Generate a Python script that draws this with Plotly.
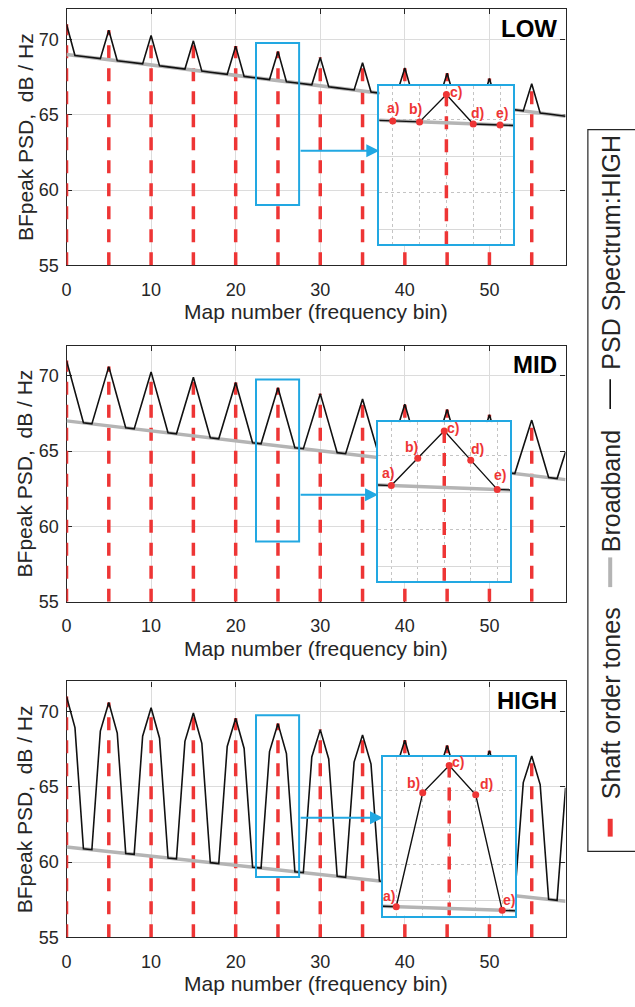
import plotly.graph_objects as go

# ---------------- data ----------------
tone_bins = [0, 5, 10, 15, 20, 25, 30, 35, 40, 45, 50, 55]
tone_peak = [71.0, 70.6, 70.25, 69.9, 69.55, 69.2, 68.8, 68.45, 68.1, 67.75, 67.4, 67.05]

map_bins = list(range(60))

broadband_x = [0, 59]
broadband_low = [69.0, 64.9]
broadband_mid = [67.0, 63.1]
broadband_high = [61.0, 57.4]

psd_low = [71.0, 68.93, 68.86, 68.79, 68.72, 70.6, 68.58, 68.51, 68.44, 68.37,
           70.25, 68.24, 68.17, 68.10, 68.03, 69.9, 67.89, 67.82, 67.75, 67.68,
           69.55, 67.54, 67.47, 67.40, 67.33, 69.2, 67.19, 67.12, 67.05, 66.98,
           68.8, 66.85, 66.78, 66.71, 66.64, 68.45, 66.50, 66.43, 66.36, 66.29,
           68.1, 66.15, 66.08, 66.01, 65.94, 67.75, 65.80, 65.73, 65.66, 65.59,
           67.4, 65.46, 65.39, 65.32, 65.25, 67.05, 65.11, 65.04, 64.97, 64.90]

psd_mid = [71.0, 68.93, 66.87, 66.80, 68.70, 70.6, 68.57, 66.54, 66.47, 68.36,
           70.25, 68.23, 66.21, 66.14, 68.02, 69.9, 67.89, 65.88, 65.81, 67.68,
           69.55, 67.55, 65.55, 65.48, 67.34, 69.2, 67.21, 65.22, 65.15, 66.98,
           68.8, 66.85, 64.89, 64.82, 66.64, 68.45, 66.51, 64.56, 64.49, 66.30,
           68.1, 66.17, 64.23, 64.16, 65.96, 67.75, 65.83, 63.90, 63.83, 65.62,
           67.4, 65.49, 63.57, 63.50, 65.28, 67.05, 65.15, 63.24, 63.17, 64.94]

psd_high = [71.0, 68.93, 60.88, 60.82, 68.70, 70.6, 68.57, 60.57, 60.51, 68.36,
            70.25, 68.23, 60.27, 60.21, 68.02, 69.9, 67.89, 59.96, 59.90, 67.68,
            69.55, 67.55, 59.66, 59.60, 67.34, 69.2, 67.21, 59.35, 59.29, 66.98,
            68.8, 66.85, 59.05, 58.99, 66.64, 68.45, 66.51, 58.74, 58.68, 66.30,
            68.1, 66.17, 58.44, 58.38, 65.96, 67.75, 65.83, 58.13, 58.07, 65.62,
            67.4, 65.49, 57.83, 57.77, 65.28, 67.05, 65.15, 57.52, 57.46, 64.94]

panel_names = ["LOW", "MID", "HIGH"]
zoom_bins = [23, 24, 25, 26, 27]
zoom_labels = ["a)", "b)", "c)", "d)", "e)"]
zoom_tone = 25
zoom_x_range = [22.5, 27.5]
zoom_y_range = [59.0, 69.8]

x_ticks = [0, 10, 20, 30, 40, 50]
y_ticks = [55, 60, 65, 70]
x_range = [0, 59]
y_range = [55, 72]

legend_labels = ["Shaft order tones", "Broadband", "PSD Spectrum:HIGH"]
x_title = "Map number (frequency bin)"
y_title = "BFpeak PSD,  dB / Hz"

# ---------------- styling / layout ----------------
W, H = 635, 1007
RED = "#EE3535"
GRAY = "#B4B4B4"
BLACK = "#111111"
CYAN = "#22A8E2"
AX = "#262626"
FONT = "Arial, Liberation Sans, sans-serif"


def fx(px):
    return px / W


def fy(py):
    return 1 - py / H


PL, PR = 62.0, 565.0
panels = [
    dict(top=9.3, bot=268.0, psd=psd_low, bb=broadband_low,
         inset=(377.3, 512.5, 86.5, 246.7), arrow_y=62.6,
         offs=[(0, 13), (-4, 13), (10, 2), (4, 11), (2, 12)]),
    dict(top=349.0, bot=607.7, psd=psd_mid, bb=broadband_mid,
         inset=(376.0, 509.5, 426.3, 586.7), arrow_y=62.1,
         offs=[(-3, 13), (-6, 11), (9, 3), (7, 11), (3, 14)]),
    dict(top=688.3, bot=946.7, psd=psd_high, bb=broadband_high,
         inset=(381.0, 514.5, 764.2, 924.7), arrow_y=62.95,
         offs=[(-7, 11), (-9, 10), (9, 3), (11, 11), (7, 10)]),
]

fig = go.Figure()
layout = dict(width=W, height=H, margin=dict(l=0, r=0, t=0, b=0),
              paper_bgcolor="white", plot_bgcolor="white", showlegend=False,
              font=dict(family=FONT, color=AX))
shapes = []
annotations = []


def stems(xs, ys, base):
    sx, sy = [], []
    for xv, yv in zip(xs, ys):
        sx += [xv, xv, None]
        sy += [base, yv, None]
    return sx, sy


for i, p in enumerate(panels):
    n = i + 1
    xa = "x" if n == 1 else f"x{n}"
    ya = "y" if n == 1 else f"y{n}"
    xkey = "xaxis" if n == 1 else f"xaxis{n}"
    ykey = "yaxis" if n == 1 else f"yaxis{n}"

    sx, sy = stems(tone_bins, tone_peak, y_range[0])
    fig.add_trace(go.Scatter(x=sx, y=sy, mode="lines", xaxis=xa, yaxis=ya,
                             line=dict(color=RED, width=3.5, dash="13px,10px"),
                             hoverinfo="skip"))
    fig.add_trace(go.Scatter(x=broadband_x, y=p["bb"], mode="lines", xaxis=xa, yaxis=ya,
                             line=dict(color=GRAY, width=3.5)))
    fig.add_trace(go.Scatter(x=map_bins, y=p["psd"], mode="lines", xaxis=xa, yaxis=ya,
                             line=dict(color=BLACK, width=1.6)))

    layout[xkey] = dict(domain=[fx(PL), fx(PR)], range=x_range, anchor=ya,
                        tickvals=x_ticks, ticks="inside", ticklen=5, tickcolor=AX,
                        showline=True, linecolor=AX, linewidth=1.2, mirror="ticks",
                        showgrid=True, gridcolor="#DCDCDC", gridwidth=1, zeroline=False,
                        tickfont=dict(size=18, color=AX, family=FONT),
                        ticklabelstandoff=8, layer="below traces")
    layout[ykey] = dict(domain=[fy(p["bot"]), fy(p["top"])], range=y_range, anchor=xa,
                        tickvals=y_ticks, ticks="inside", ticklen=5, tickcolor=AX,
                        showline=True, linecolor=AX, linewidth=1.2, mirror="ticks",
                        showgrid=True, gridcolor="#DCDCDC", gridwidth=1, zeroline=False,
                        tickfont=dict(size=18, color=AX, family=FONT),
                        ticklabelstandoff=3, layer="below traces")

    # highlight box on main axes
    shapes.append(dict(type="rect", xref=xa, yref=ya, x0=22.4, x1=27.5,
                       y0=zoom_y_range[0], y1=69.75, line=dict(color=CYAN, width=2)))
    # arrow to inset
    il, ir, it, ib = p["inset"]
    tip_x = (il - PL) / (PR - PL) * (x_range[1] - x_range[0])
    annotations.append(dict(xref=xa, yref=ya, axref=xa, ayref=ya, x=tip_x, y=p["arrow_y"],
                            ax=27.5, ay=p["arrow_y"], text="", showarrow=True,
                            arrowhead=2, arrowsize=1.3, arrowwidth=2, arrowcolor=CYAN,
                            standoff=0, startstandoff=0))
    # panel name
    annotations.append(dict(xref="paper", yref="paper", x=fx(558), y=fy(p["top"] + 4),
                            xanchor="right", yanchor="top", text=f"<b>{panel_names[i]}</b>",
                            showarrow=False, font=dict(size=24, color="black", family=FONT)))
    # axis titles
    annotations.append(dict(xref="paper", yref="paper", x=fx((PL + PR) / 2), y=fy(p["bot"] + 47),
                            xanchor="center", yanchor="middle", text=x_title, showarrow=False,
                            font=dict(size=21, color=AX, family=FONT)))
    annotations.append(dict(xref="paper", yref="paper", x=fx(20), y=fy((p["top"] + p["bot"]) / 2),
                            xanchor="center", yanchor="middle", text=y_title, showarrow=False,
                            textangle=-90, font=dict(size=21, color=AX, family=FONT)))

# insets (drawn after main plots so they sit on top)
for i, p in enumerate(panels):
    n = i + 4
    xa, ya = f"x{n}", f"y{n}"
    il, ir, it, ib = p["inset"]
    zx = [zoom_tone, zoom_tone]
    zy = [zoom_y_range[0], tone_peak[tone_bins.index(zoom_tone)]]
    fig.add_trace(go.Scatter(x=zx, y=zy, mode="lines", xaxis=xa, yaxis=ya,
                             line=dict(color=RED, width=3.5, dash="13px,10px")))
    fig.add_trace(go.Scatter(x=broadband_x, y=p["bb"], mode="lines", xaxis=xa, yaxis=ya,
                             line=dict(color=GRAY, width=3.5)))
    fig.add_trace(go.Scatter(x=map_bins, y=p["psd"], mode="lines", xaxis=xa, yaxis=ya,
                             line=dict(color=BLACK, width=1.4)))
    pts_y = [p["psd"][b] for b in zoom_bins]
    fig.add_trace(go.Scatter(x=zoom_bins, y=pts_y, mode="markers", xaxis=xa, yaxis=ya,
                             marker=dict(color=RED, size=7), cliponaxis=False))
    for b, yv, lab, (dx, dy) in zip(zoom_bins, pts_y, zoom_labels, p["offs"]):
        annotations.append(dict(xref=xa, yref=ya, x=b, y=yv, text=f"<b>{lab}</b>",
                                showarrow=False, xshift=dx, yshift=dy,
                                font=dict(size=14, color=RED, family=FONT)))
    layout[f"xaxis{n}"] = dict(domain=[fx(il), fx(ir)], range=zoom_x_range, anchor=ya,
                               tickvals=zoom_bins, showticklabels=False, ticks="",
                               showline=True, linecolor=CYAN, linewidth=2, mirror=True,
                               showgrid=True, gridcolor="#C4C4C4", griddash="dot", gridwidth=1,
                               zeroline=False)
    layout[f"yaxis{n}"] = dict(domain=[fy(ib), fy(it)], range=zoom_y_range, anchor=xa,
                               tickvals=[60, 65], showticklabels=False, ticks="",
                               showline=True, linecolor=CYAN, linewidth=2, mirror=True,
                               showgrid=True, gridcolor="#D8D8D8", gridwidth=1, zeroline=False,
                               minor=dict(tickvals=[62.5, 67.5], showgrid=True,
                                          gridcolor="#C4C4C4", griddash="dot", gridwidth=1))

# ---------------- rotated legend ----------------
shapes.append(dict(type="rect", xref="paper", yref="paper", x0=fx(587.5), x1=fx(660),
                   y0=fy(860), y1=fy(131), line=dict(color=AX, width=1.2), fillcolor="rgba(0,0,0,0)"))
shapes.append(dict(type="line", xref="paper", yref="paper", x0=fx(610), x1=fx(610),
                   y0=fy(845), y1=fy(827), line=dict(color=RED, width=5)))
shapes.append(dict(type="line", xref="paper", yref="paper", x0=fx(610), x1=fx(610),
                   y0=fy(593), y1=fy(563), line=dict(color=GRAY, width=4)))
shapes.append(dict(type="line", xref="paper", yref="paper", x0=fx(610), x1=fx(610),
                   y0=fy(413), y1=fy(383), line=dict(color=BLACK, width=1.6)))
for lab, cy in zip(legend_labels, [710, 496, 255]):
    annotations.append(dict(xref="paper", yref="paper", x=fx(611), y=fy(cy),
                            xanchor="center", yanchor="middle", text=lab, textangle=-90,
                            showarrow=False, font=dict(size=25, color=AX, family=FONT)))

layout["shapes"] = shapes
layout["annotations"] = annotations
fig.update_layout(**layout)
fig.write_html("out.html")
